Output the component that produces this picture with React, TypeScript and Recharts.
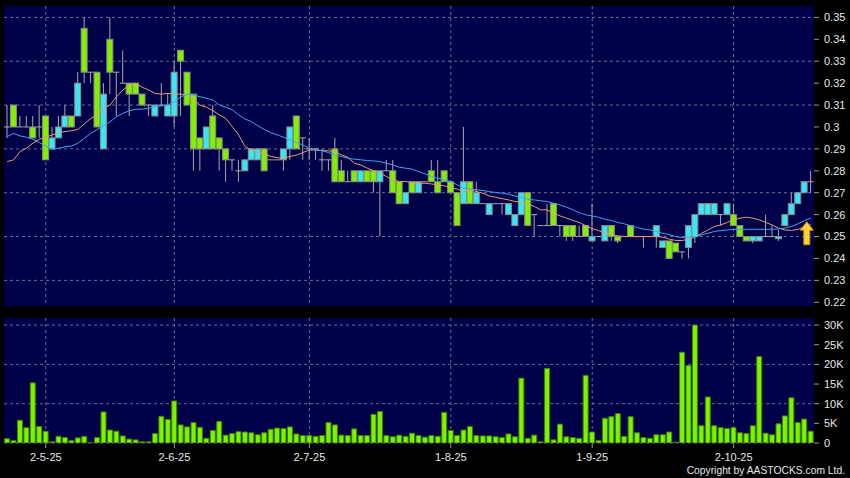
// @ts-nocheck
import React from 'react'
import { ComposedChart, BarChart, Bar, Line, XAxis, YAxis, CartesianGrid, ReferenceDot } from 'recharts'

// daily candles, oldest first
const open = [
  0.30, 0.31, 0.30, 0.30, 0.30, 0.30, 0.305, 0.29, 0.295, 0.30,
  0.305, 0.305, 0.345, 0.325, 0.325, 0.29, 0.34, 0.325, 0.32, 0.32,
  0.32, 0.315, 0.31, 0.305, 0.31, 0.305, 0.305, 0.335, 0.325, 0.315,
  0.295, 0.29, 0.305, 0.295, 0.29, 0.285, 0.28, 0.28, 0.285, 0.285,
  0.29, 0.285, 0.285, 0.285, 0.29, 0.305, 0.295, 0.29, 0.29, 0.285,
  0.285, 0.29, 0.28, 0.275, 0.28, 0.275, 0.28, 0.28, 0.275, 0.28,
  0.28, 0.275, 0.265, 0.275, 0.27, 0.275, 0.28, 0.275, 0.28, 0.275,
  0.27, 0.265, 0.275, 0.265, 0.265, 0.26, 0.265, 0.265, 0.26, 0.255,
  0.26, 0.27, 0.26, 0.255, 0.255, 0.265, 0.255, 0.255, 0.255, 0.25,
  0.255, 0.248, 0.25, 0.248, 0.255, 0.25, 0.25, 0.255, 0.25, 0.25,
  0.25, 0.25, 0.245, 0.248, 0.247, 0.243, 0.245, 0.25, 0.26, 0.26,
  0.26, 0.26, 0.26, 0.26, 0.255, 0.25, 0.248, 0.248, 0.25, 0.25,
  0.249, 0.255, 0.26, 0.265, 0.27, 0.275
]
const high = [
  0.31, 0.31, 0.305, 0.305, 0.305, 0.31, 0.305, 0.30, 0.305, 0.31,
  0.305, 0.325, 0.35, 0.325, 0.325, 0.32, 0.35, 0.325, 0.335, 0.32,
  0.32, 0.315, 0.31, 0.31, 0.32, 0.315, 0.33, 0.335, 0.325, 0.315,
  0.295, 0.30, 0.31, 0.295, 0.29, 0.285, 0.285, 0.285, 0.29, 0.29,
  0.29, 0.285, 0.285, 0.29, 0.30, 0.305, 0.295, 0.295, 0.29, 0.29,
  0.285, 0.295, 0.285, 0.28, 0.28, 0.28, 0.28, 0.28, 0.28, 0.285,
  0.285, 0.275, 0.27, 0.275, 0.275, 0.275, 0.285, 0.285, 0.28, 0.275,
  0.27, 0.30, 0.275, 0.275, 0.265, 0.265, 0.265, 0.265, 0.265, 0.26,
  0.27, 0.27, 0.26, 0.255, 0.265, 0.265, 0.255, 0.255, 0.255, 0.255,
  0.255, 0.265, 0.25, 0.255, 0.255, 0.25, 0.25, 0.255, 0.25, 0.25,
  0.25, 0.255, 0.248, 0.248, 0.247, 0.243, 0.255, 0.26, 0.265, 0.265,
  0.265, 0.26, 0.265, 0.265, 0.255, 0.25, 0.25, 0.25, 0.26, 0.255,
  0.253, 0.26, 0.27, 0.27, 0.275, 0.28
]
const low = [
  0.295, 0.30, 0.30, 0.30, 0.295, 0.295, 0.285, 0.29, 0.295, 0.30,
  0.30, 0.305, 0.32, 0.32, 0.30, 0.29, 0.315, 0.305, 0.32, 0.305,
  0.315, 0.31, 0.305, 0.305, 0.31, 0.305, 0.30, 0.305, 0.31, 0.28,
  0.28, 0.29, 0.29, 0.28, 0.275, 0.28, 0.275, 0.28, 0.285, 0.285,
  0.28, 0.285, 0.285, 0.28, 0.285, 0.29, 0.285, 0.285, 0.285, 0.28,
  0.28, 0.275, 0.275, 0.275, 0.275, 0.275, 0.275, 0.27, 0.25, 0.28,
  0.27, 0.265, 0.265, 0.27, 0.27, 0.275, 0.275, 0.27, 0.275, 0.27,
  0.255, 0.265, 0.265, 0.265, 0.265, 0.26, 0.265, 0.26, 0.26, 0.255,
  0.26, 0.255, 0.25, 0.255, 0.255, 0.255, 0.25, 0.248, 0.248, 0.25,
  0.25, 0.248, 0.25, 0.248, 0.248, 0.247, 0.25, 0.25, 0.25, 0.245,
  0.25, 0.245, 0.245, 0.24, 0.243, 0.24, 0.24, 0.247, 0.26, 0.26,
  0.26, 0.255, 0.26, 0.255, 0.25, 0.248, 0.247, 0.248, 0.25, 0.25,
  0.248, 0.255, 0.26, 0.265, 0.27, 0.27
]
const close = [
  0.30, 0.30, 0.30, 0.30, 0.295, 0.30, 0.285, 0.295, 0.30, 0.305,
  0.30, 0.32, 0.325, 0.325, 0.30, 0.315, 0.325, 0.325, 0.32, 0.315,
  0.315, 0.31, 0.31, 0.31, 0.31, 0.31, 0.325, 0.33, 0.31, 0.29,
  0.29, 0.30, 0.29, 0.29, 0.285, 0.285, 0.28, 0.285, 0.29, 0.29,
  0.28, 0.285, 0.285, 0.29, 0.30, 0.29, 0.295, 0.29, 0.29, 0.285,
  0.285, 0.275, 0.275, 0.275, 0.275, 0.28, 0.275, 0.275, 0.28, 0.28,
  0.27, 0.265, 0.27, 0.27, 0.275, 0.275, 0.275, 0.27, 0.275, 0.27,
  0.255, 0.275, 0.265, 0.27, 0.265, 0.265, 0.265, 0.265, 0.265, 0.26,
  0.27, 0.255, 0.26, 0.255, 0.255, 0.255, 0.255, 0.25, 0.25, 0.25,
  0.25, 0.25, 0.25, 0.255, 0.25, 0.248, 0.25, 0.25, 0.25, 0.25,
  0.25, 0.255, 0.248, 0.24, 0.243, 0.243, 0.255, 0.26, 0.265, 0.265,
  0.265, 0.26, 0.265, 0.255, 0.25, 0.248, 0.25, 0.25, 0.25, 0.25,
  0.25, 0.26, 0.265, 0.27, 0.275, 0.275
]
// volume in thousands of shares
const volume = [
  1.1, 0.6, 5.8, 3.9, 15.3, 4.2, 3.0, 0.3, 1.7, 1.4,
  0.6, 1.3, 1.7, 0.05, 1.4, 7.9, 3.3, 3.0, 1.8, 1.0,
  0.8, 0.3, 0.3, 2.4, 6.8, 6.0, 10.7, 4.6, 4.1, 5.2,
  4.0, 1.2, 3.2, 5.5, 2.0, 2.4, 2.9, 2.8, 2.6, 2.1,
  2.6, 3.5, 3.8, 3.7, 4.1, 2.3, 1.9, 1.9, 1.7, 1.9,
  5.2, 4.6, 2.0, 1.9, 3.6, 1.9, 1.9, 7.3, 8.0, 1.9,
  1.6, 2.0, 1.7, 2.5, 1.9, 1.5, 1.9, 1.7, 7.8, 3.2,
  1.9, 3.3, 4.2, 1.9, 1.8, 1.8, 1.6, 1.4, 2.3, 1.6,
  16.5, 1.2, 2.0, 0.3, 19.0, 0.8, 4.8, 1.6, 1.4, 1.2,
  17.2, 2.8, 0.6, 6.3, 6.7, 7.5, 1.7, 6.7, 2.6, 1.4,
  1.2, 2.1, 2.1, 2.8, 0.2, 23.1, 19.7, 30.0, 4.4, 11.7,
  4.4, 3.9, 3.7, 3.9, 2.6, 2.4, 4.4, 22.0, 2.5, 2.1,
  4.9, 6.9, 11.5, 5.2, 6.1, 3.0
]
// moving averages as drawn (orange = short, blue = long)
const maShort = [
  0.2842, 0.2850, 0.2888, 0.2903, 0.2926, 0.2944, 0.2953, 0.2964, 0.2974, 0.2979,
  0.2983, 0.2989, 0.3014, 0.3039, 0.3055, 0.3085, 0.3100, 0.3138, 0.3169, 0.3191,
  0.3199, 0.3181, 0.3169, 0.3153, 0.3150, 0.3153, 0.3150, 0.3150, 0.3146, 0.3126,
  0.3100, 0.3090, 0.3074, 0.3055, 0.3039, 0.3002, 0.2964, 0.2910, 0.2895, 0.2883,
  0.2877, 0.2865, 0.2860, 0.2857, 0.2865, 0.2872, 0.2883, 0.2895, 0.2895, 0.2892,
  0.2891, 0.2888, 0.2872, 0.2862, 0.2834, 0.2827, 0.2812, 0.2801, 0.2789, 0.2774,
  0.2758, 0.2751, 0.2751, 0.2746, 0.2743, 0.2743, 0.2740, 0.2736, 0.2731, 0.2725,
  0.2716, 0.2705, 0.2713, 0.2705, 0.2698, 0.2685, 0.2679, 0.2673, 0.2667, 0.2660,
  0.2655, 0.2649, 0.2637, 0.2622, 0.2622, 0.2606, 0.2594, 0.2584, 0.2573, 0.2564,
  0.2549, 0.2536, 0.2527, 0.2515, 0.2510, 0.2503, 0.2500, 0.2500, 0.2500, 0.2500,
  0.2500, 0.2500, 0.2497, 0.2488, 0.2482, 0.2482, 0.2488, 0.2497, 0.2515, 0.2530,
  0.2546, 0.2553, 0.2564, 0.2576, 0.2584, 0.2588, 0.2584, 0.2576, 0.2564, 0.2553,
  0.2538, 0.2530, 0.2528, 0.2532, 0.2545, 0.2555
]
const maLong = [
  0.2956, 0.2971, 0.2959, 0.2953, 0.2944, 0.2929, 0.2913, 0.2898, 0.2903, 0.2910,
  0.2913, 0.2926, 0.2948, 0.2971, 0.2989, 0.3005, 0.3024, 0.3047, 0.3062, 0.3074,
  0.3081, 0.3081, 0.3085, 0.3093, 0.3096, 0.3100, 0.3116, 0.3138, 0.3149, 0.3146,
  0.3138, 0.3131, 0.3123, 0.3100, 0.3090, 0.3078, 0.3055, 0.3036, 0.3024, 0.3005,
  0.2989, 0.2974, 0.2964, 0.2953, 0.2941, 0.2929, 0.2918, 0.2903, 0.2895, 0.2892,
  0.2883, 0.2872, 0.2865, 0.2857, 0.2853, 0.2850, 0.2847, 0.2845, 0.2842, 0.2834,
  0.2827, 0.2816, 0.2812, 0.2807, 0.2796, 0.2786, 0.2774, 0.2766, 0.2758, 0.2751,
  0.2736, 0.2720, 0.2717, 0.2713, 0.2710, 0.2705, 0.2701, 0.2698, 0.2693, 0.2685,
  0.2678, 0.2670, 0.2667, 0.2663, 0.2660, 0.2652, 0.2644, 0.2634, 0.2622, 0.2609,
  0.2599, 0.2594, 0.2588, 0.2579, 0.2573, 0.2564, 0.2558, 0.2549, 0.2541, 0.2533,
  0.2530, 0.2523, 0.2515, 0.2508, 0.2500, 0.2495, 0.2497, 0.2497, 0.2508, 0.2515,
  0.2523, 0.2527, 0.2530, 0.2533, 0.2533, 0.2533, 0.2533, 0.2533, 0.2533, 0.2533,
  0.2535, 0.2539, 0.2546, 0.2558, 0.2573, 0.2584
]

const dateTickIdx = [6, 26, 47, 69, 91, 113]
const dateTickLabels = ['2-5-25', '2-6-25', '2-7-25', '1-8-25', '1-9-25', '2-10-25']
const priceTicks = [0.22, 0.23, 0.24, 0.25, 0.26, 0.27, 0.28, 0.29, 0.30, 0.31, 0.32, 0.33, 0.34, 0.35]
const volTicks = [0, 5, 10, 15, 20, 25, 30]

const data = open.map((o, i) => ({
  day: i, open: o, high: high[i], low: low[i], close: close[i],
  vol: volume[i], ma1: maShort[i], ma2: maLong[i]
}))

const NAVY = '#000048'
const GRID = '#6c6c96'
const TXT = '#e6e6e6'
const FONT = '"Liberation Sans", Arial, sans-serif'

const Candle = (props: any) => {
  const { x, y, width, height, payload } = props
  const { open: o, high: h, low: l, close: c } = payload
  const top = Math.min(y, y + height)
  const span = Math.abs(height)
  const k = h > l ? span / (h - l) : 0
  const yO = top + (h - o) * k
  const yC = top + (h - c) * k
  const cx = x + width / 2
  return (
    <g>
      <line x1={cx} x2={cx} y1={top} y2={top + span} stroke="#a8a8a8" strokeWidth={1} />
      {o === c
        ? <line x1={x} x2={x + width} y1={yO} y2={yO} stroke="#a8a8a8" strokeWidth={1} />
        : <rect x={x} y={Math.min(yO, yC)} width={width} height={Math.abs(yO - yC)}
            fill={c > o ? '#3ae6f2' : '#80f000'} stroke="#8a8a8a" strokeWidth={1} />}
    </g>
  )
}

const Arrow = (props: any) => {
  const { cx, cy } = props
  const x = cx - 4
  const pts = [
    [x, cy - 11.5], [x + 6.5, cy - 3], [x + 3, cy - 3], [x + 3, cy + 11.5],
    [x - 3, cy + 11.5], [x - 3, cy - 3], [x - 6.5, cy - 3]
  ].map(p => p.join(',')).join(' ')
  return <polygon points={pts} fill="#ffd23c" stroke="#c98a00" strokeWidth={1} />
}

const fmtDate = (v: any) => {
  const k = dateTickIdx.indexOf(Number(v))
  return k >= 0 ? dateTickLabels[k] : ''
}

export default function App() {
  return (
    <div style={{ position: 'fixed', left: 0, top: 0, width: 850, height: 478, background: '#000', overflow: 'hidden' }}>
      <ComposedChart width={850} height={312} data={data} margin={{ top: 6, right: 0, bottom: 6, left: 4 }} barCategoryGap={0} barGap={0}>
        <CartesianGrid fill={NAVY} stroke={GRID} strokeDasharray="3 3" syncWithTicks />
        <XAxis dataKey="day" type="category" hide ticks={dateTickIdx} interval={0} />
        <YAxis orientation="right" width={36} domain={[0.2183, 0.3552]} allowDataOverflow ticks={priceTicks}
          tickFormatter={(v: any) => String(+Number(v).toFixed(2))}
          tick={{ fill: TXT, fontSize: 11, fontFamily: FONT }} axisLine={false}
          tickLine={{ stroke: '#9a9a9a' }} tickSize={5} tickMargin={5} />
        <Bar dataKey={(d: any) => [d.low, d.high]} shape={Candle} isAnimationActive={false} />
        <Line dataKey="ma1" stroke="#ec9a6e" strokeWidth={1} dot={false} activeDot={false} isAnimationActive={false} />
        <Line dataKey="ma2" stroke="#3aa6f0" strokeWidth={1} dot={false} activeDot={false} isAnimationActive={false} />
        <ReferenceDot x={125} y={0.2515} r={6} shape={Arrow} />
      </ComposedChart>
      <BarChart width={850} height={166} data={data} margin={{ top: 6, right: 0, bottom: 0, left: 4 }} barCategoryGap="9%">
        <CartesianGrid fill={NAVY} stroke={GRID} strokeDasharray="3 3" syncWithTicks />
        <XAxis dataKey="day" type="category" ticks={dateTickIdx} interval={0} tickFormatter={fmtDate} height={35}
          tick={{ fill: TXT, fontSize: 11, fontFamily: FONT }} axisLine={false}
          tickLine={{ stroke: '#9a9a9a' }} tickSize={5} tickMargin={5} />
        <YAxis orientation="right" width={36} domain={[0, 31.8]} allowDataOverflow ticks={volTicks}
          tickFormatter={(v: any) => (v === 0 ? '0' : v + 'K')}
          tick={{ fill: TXT, fontSize: 11, fontFamily: FONT }} axisLine={false}
          tickLine={{ stroke: '#9a9a9a' }} tickSize={5} tickMargin={5} />
        <Bar dataKey="vol" fill="#7cf400" stroke="#3f7f00" strokeWidth={1} isAnimationActive={false} />
      </BarChart>
      <div style={{ position: 'absolute', right: 5, top: 464, fontFamily: FONT, fontSize: 10.3, lineHeight: '13px', color: TXT }}>
        Copyright by AASTOCKS.com Ltd.
      </div>
    </div>
  )
}
